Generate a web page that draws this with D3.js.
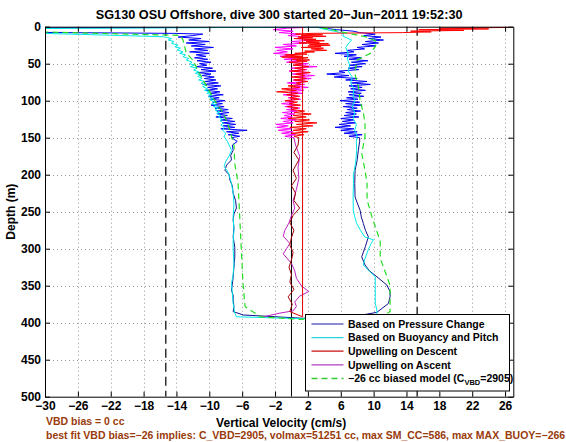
<!DOCTYPE html>
<html><head><meta charset="utf-8">
<script src="https://cdn.jsdelivr.net/npm/d3@7"></script>
<style>
body{margin:0;background:#fff;}
svg text{font-family:"Liberation Sans",Arial,Helvetica,sans-serif;font-weight:bold;}
</style></head><body>
<svg id="c" width="566" height="442"></svg>
<script>
// ---------------- data: [depth (m), vertical velocity (cm/s)] ----------------
const xTicks = [-30,-26,-22,-18,-14,-10,-6,-2,2,6,10,14,18,22,26];
const yTicks = [0,50,100,150,200,250,300,350,400,450,500];
const limitLines = [-15.3, 15.3];

const pressureFine = [[0.5,3.8],[2,-40],[7,-40],[9,-14.4],[10,-10.8],[12,-12.0],[14,-13.8],[16,-11.0],[18,-12.5],[20,-10.0],[22,-12.8],[24,-10.5],[26,-12.2],[28,-9.5],[30,-11.8],[32,-10.2],[34,-12.4],[36,-10.0],[38,-11.6],[40,-10.4],[42,-11.8],[44,-10.2],[46,-11.5],[48,-9.8],[50,-11.2],[52,-10.3],[54,-11.6],[56,-9.6],[58,-11.0],[60,-9.2],[62,-11.4],[64,-9.8],[66,-10.9],[68,-9.4],[70,-10.6],[72,-9.2],[74,-10.5],[76,-8.9],[78,-10.8],[80,-8.6],[82,-10.2],[84,-9.0],[86,-10.4],[88,-8.7],[90,-9.9],[92,-8.3],[94,-10.1],[96,-8.8],[98,-9.9],[100,-8.1],[102,-9.6],[104,-8.4],[106,-9.8],[108,-8.2],[110,-9.3],[112,-7.7],[114,-9.1],[116,-7.6],[118,-9.0],[120,-7.8],[122,-9.2],[124,-7.2],[126,-8.6],[128,-6.9],[130,-8.4],[132,-6.8],[134,-8.3],[136,-6.9],[138,-8.6],[140,-5.4],[142,-7.9],[144,-6.4],[146,-7.7],[148,-6.3],[150,-7.3],[155,-6.6],[160,-7.2],[167,-7.1]];
const pressureDeep = [[167,-7.1],[174,-7.4],[180,-7.3],[187,-7.9],[194,-8.1],[200,-7.6],[207,-7.5],[215,-7.2],[225,-7.1],[235,-6.8],[245,-6.7],[253,-7.0],[261,-7.1],[272,-7.0],[284,-7.1],[298,-6.9],[311,-6.9],[325,-7.0],[338,-7.1],[348,-7.2],[356,-7.3],[363,-7.1],[369,-7.1],[378,-7.0],[385,-7.1],[389.6,-5.85],[394,1.4],[390,8.4],[386,10.4],[374,11.8],[365,12.0],[358,12.0],[349,11.6],[338,10.4],[330,9.5],[322,8.95],[311,8.55],[297,9.0],[284,9.36],[275,9.0],[266,8.75],[257,8.5],[248,8.35],[238,8.0],[230,7.74],[212,7.7],[194,7.74],[180,8.0],[167,8.14],[155,8.3],[150,8.3]];
const pressureAscentFine = [[150,8.3],[148,7.0],[146,8.6],[144,6.4],[142,8.0],[140,6.0],[138,7.6],[136,5.3],[134,7.2],[132,5.8],[130,7.8],[128,6.2],[126,7.6],[124,6.0],[122,8.2],[120,6.4],[118,7.9],[116,6.6],[114,8.4],[112,6.8],[110,8.0],[108,6.3],[106,8.6],[104,6.6],[102,8.3],[100,5.9],[98,8.1],[96,6.7],[94,8.8],[92,7.0],[90,8.5],[88,6.9],[86,9.0],[84,7.2],[82,8.6],[80,7.0],[78,9.6],[76,7.3],[74,9.2],[72,6.6],[70,8.0],[68,5.2],[66,7.0],[64,4.3],[62,6.5],[60,5.8],[58,8.2],[56,6.9],[54,8.6],[52,7.0],[50,9.0],[48,7.3],[46,9.3],[44,7.0],[42,8.5],[40,6.4],[38,7.9],[36,5.3],[34,7.6],[32,6.8],[30,8.9],[28,8.0],[26,10.2],[24,8.6],[22,10.6],[20,9.0],[18,11.2],[16,9.4],[14,10.9],[12,8.8],[10,10.2],[8,8.3],[6,7.5],[4,5.5],[2,4.0]];

const buoyancy = [[0.5,3.2],[3,-40],[6,-40],[13.5,-15.6],[16,-14.6],[18,-15.0],[20,-14.3],[22.5,-14.6],[25,-13.8],[27,-14.2],[29,-13.5],[31.5,-13.9],[34,-13.2],[36,-13.6],[38,-12.9],[40.5,-13.2],[43,-12.5],[45,-12.8],[48,-12.1],[50,-12.4],[52,-11.8],[54,-12.3],[56,-11.5],[58.5,-11.9],[61,-11.3],[63,-11.7],[65,-11.0],[67,-11.4],[70,-10.9],[72,-11.3],[74,-10.6],[76.5,-11.0],[79,-10.4],[81,-10.8],[84,-10.2],[86,-10.6],[88,-9.9],[90,-10.3],[92,-9.7],[94.6,-10.1],[97,-9.5],[99,-9.9],[102,-9.3],[104,-9.7],[106,-9.1],[108,-9.5],[110,-8.9],[112.6,-9.3],[115,-8.7],[117,-9.1],[120,-8.6],[122,-8.9],[125,-8.4],[127,-8.7],[130.5,-8.3],[133,-8.6],[136,-8.2],[140,-8.4],[144,-8.0],[148.6,-8.2],[155,-7.8],[162,-7.5],[167,-7.3],[175,-7.6],[182,-8.0],[189,-8.2],[195,-7.8],[200,-7.6],[212,-7.3],[225,-7.1],[240,-7.0],[257,-7.1],[275,-7.0],[290,-7.1],[302,-7.1],[320,-7.0],[335,-7.1],[347,-7.3],[360,-7.2],[374,-7.1],[387,-6.9],[392,-6.7],[394.5,1.0],[391,10.4],[383,10.4],[374,10.2],[365,10.2],[350,10.2],[338,10.2],[329,9.36],[322,8.75],[315,8.9],[301,9.36],[293,9.7],[288,9.97],[284,8.9],[275,8.4],[266,7.94],[257,7.7],[248,7.53],[230,7.5],[212,7.55],[200,7.53],[185,7.8],[167,7.94],[155,7.9],[148,8.0],[140,7.7],[132,7.9],[124,7.5],[116,7.7],[108,7.4],[100,7.7],[92,7.5],[84,7.6],[76,7.2],[68,7.4],[60,6.9],[52,7.1],[44,6.8],[36,6.9],[28,6.6],[22,7.0],[18,7.3],[13,6.3],[9,6.3],[6,5.2],[3,3.8],[1,3.2]];

const biasedModel = [[0.5,-40],[5,-38],[11.7,-13.5],[18,-13.2],[27,-13.0],[36,-12.8],[45,-12.0],[63,-11.2],[81,-10.3],[99,-9.4],[117,-8.3],[130,-7.8],[140,-7.5],[160,-7.0],[185,-6.9],[211,-6.5],[257,-6.3],[302,-6.1],[347,-5.9],[378,-5.65],[392,-3.8],[395.5,1.0],[392,11.0],[385,12.0],[350,12.0],[337,11.6],[313,10.8],[290,10.8],[257,9.8],[234,9.2],[212,9.2],[194,8.95],[171,8.55],[149,8.95],[130,8.95],[117,8.75],[99,8.35],[81,8.14],[63,7.7],[45,8.0],[36,9.6],[27,10.2],[20,10.4],[14,9.2],[8,6.5],[3,4.5],[0.5,3.0]];

const upDescentFine = [[1,26.5],[2,18],[3,24],[4,15.5],[5,21],[6,14.5],[7,17],[8,13.5],[9,2.5],[10,0.5],[11,3.8],[12,1.2],[13,4.2],[14,0.8],[15,2.6],[16,0.3],[17,3.0],[18,1.5],[19,4.0],[20,1.8],[21,3.4],[22,0.9],[23,4.5],[24,2.2],[25,4.7],[26,2.0],[27,3.6],[28,1.2],[29,3.9],[30,2.4],[32,4.3],[33,1.6],[34,2.8],[36,0.4],[37,1.9],[38,-0.8],[40,1.3],[41,-1.2],[42,2.0],[44,0.1],[45,2.2],[46,0.6],[47,1.9],[48,-0.3],[50,1.4],[52,0.2],[54,2.1],[56,0.4],[58,1.7],[60,-0.1],[62,2.3],[64,0.5],[66,1.6],[68,0.0],[70,1.8],[72,0.3],[74,2.0],[76,0.6],[78,1.2],[80,-0.4],[82,1.0],[84,-1.2],[86,0.6],[88,-1.8],[90,0.8],[92,-0.6],[94,1.0],[96,-0.2],[98,0.9],[100,-0.8],[102,0.7],[104,-0.3],[106,1.1],[108,-0.5],[110,0.8],[112,0.0],[114,1.6],[116,0.3],[118,2.4],[120,0.2],[122,1.8],[124,-0.4],[126,2.2],[128,0.4],[130,3.1],[132,0.6],[134,2.6],[136,-0.2],[138,1.8],[140,0.2],[142,2.0],[144,0.0],[146,1.5],[148,0.3],[150,0.9]];
const upDescentDeep = [[150,0.9],[160,0.8],[170,0.3],[180,0.9],[194,0.2],[205,0.6],[215,0.0],[225,0.5],[235,0.3],[245,1.0],[255,0.2],[265,-0.2],[275,0.3],[285,0.0],[295,-0.2],[305,0.2],[315,0.0],[325,-0.3],[335,0.0],[345,-0.2],[355,0.3],[365,-0.4],[375,0.1],[385,-0.2]];
const upDescentTail = [[385,-0.2],[392,1.35],[0,1.35]];

const upAscentDeep = [[392,-3.4],[387,-1.4],[384,0.2],[378,0.6],[372,0.4],[364,1.0],[358,2.1],[350,1.2],[340,0.6],[330,0.4],[320,0.0],[307,-1.0],[300,-0.6],[293,-0.2],[283,-1.0],[275,-0.8],[265,-0.3],[255,0.0],[245,0.4],[235,0.2],[220,0.6],[205,0.9],[190,0.8],[175,1.0],[160,0.5],[150,0.3]];
const upAscentFine = [[150,0.3],[148,-0.8],[146,0.5],[144,-1.2],[142,0.2],[140,-1.6],[138,0.0],[136,-1.8],[134,-0.4],[132,-1.9],[130,0.2],[128,-1.0],[126,0.6],[124,-1.3],[122,0.1],[120,-0.9],[118,0.4],[116,-1.1],[114,0.7],[112,-0.6],[110,1.0],[108,-0.8],[106,0.5],[104,-1.2],[102,0.3],[100,-0.7],[98,1.1],[96,-0.4],[94,0.8],[92,-1.0],[90,1.3],[88,-0.2],[86,1.5],[84,0.0],[82,2.0],[80,0.3],[78,1.6],[76,-0.5],[74,1.8],[72,0.2],[70,2.4],[68,0.6],[66,2.8],[64,0.1],[62,2.2],[60,-0.3],[58,1.9],[56,0.0],[54,3.1],[52,0.4],[50,2.0],[48,-0.6],[46,1.2],[44,-0.9],[42,0.8],[40,-1.4],[38,0.3],[36,-2.2],[34,-0.5],[32,-1.8],[30,0.2],[28,-2.0],[26,0.6],[24,-1.0],[22,1.8],[20,0.0],[18,2.7],[16,0.5],[14,2.2],[12,-0.4],[10,1.0],[8,-1.5],[6,0.2],[4,-2.2],[2,-0.5],[1,1.5]];

const legendLabels = ["Based on Pressure Change","Based on Buoyancy and Pitch","Upwelling on Descent","Upwelling on Ascent","\u221226 cc biased model (C"];
const titleText = "SG130 OSU Offshore, dive 300 started 20\u2212Jun\u22122011 19:52:30";
const note1 = "VBD bias = 0 cc";
const note2 = "best fit VBD bias=\u221226 implies: C_VBD=2905, volmax=51251 cc, max SM_CC=586, max MAX_BUOY=\u2212266";

// ---------------- drawing ----------------
const svg = d3.select("#c");
const L=45, R=513.3, T=26.7, B=396.7;
const x = d3.scaleLinear().domain([-30,27]).range([L,R]);
const y = d3.scaleLinear().domain([0,500]).range([T,B]);
const fmt = v => v<0 ? "\u2212"+Math.abs(v) : String(v);

svg.append("rect").attr("width",566).attr("height",442).attr("fill","#fff");
svg.append("defs").append("clipPath").attr("id","clip")
  .append("rect").attr("x",L).attr("y",T).attr("width",R-L).attr("height",B-T);

// grid
const grid = svg.append("g").attr("stroke","#999").attr("stroke-width",1).attr("stroke-dasharray","1,3");
grid.selectAll(".gx").data(xTicks.filter(v=>v>-30)).join("line")
  .attr("x1",d=>Math.round(x(d))+0.5).attr("x2",d=>Math.round(x(d))+0.5).attr("y1",T).attr("y2",B);
grid.selectAll(".gy").data(yTicks.filter(v=>v>0&&v<500)).join("line")
  .attr("y1",d=>Math.round(y(d))+0.5).attr("y2",d=>Math.round(y(d))+0.5).attr("x1",L).attr("x2",R);

const plot = svg.append("g").attr("clip-path","url(#clip)");
plot.selectAll(".lim").data(limitLines).join("line")
  .attr("x1",d=>x(d)).attr("x2",d=>x(d)).attr("y1",T).attr("y2",B)
  .attr("stroke","#222").attr("stroke-width",1.4).attr("stroke-dasharray","9,5");
plot.append("line").attr("x1",x(0)).attr("x2",x(0)).attr("y1",T).attr("y2",B)
  .attr("stroke","#000").attr("stroke-width",1);

const line = d3.line().x(d=>x(d[1])).y(d=>y(d[0]));
function draw(data,color,w,dash){
  const p = plot.append("path").attr("d",line(data)).attr("fill","none")
    .attr("stroke",color).attr("stroke-width",w).attr("stroke-linejoin","round");
  if(dash) p.attr("stroke-dasharray",dash);
}
draw(pressureFine,"#0000ff",1);
draw(pressureAscentFine,"#0000ff",1);
draw(pressureDeep,"#10108c",1);
draw(buoyancy,"#00e8e8",1);
draw(upAscentFine,"#ff00ff",1);
draw(upAscentDeep,"#c020c0",1);
draw(upDescentFine,"#ff0000",1);
draw(upDescentDeep,"#a00000",1);
draw(upDescentTail,"#e00000",1);
draw(biasedModel,"#22dd22",1.2,"6,4");

// axes
function styleAxis(g){
  g.attr("font-family",null).attr("font-size",null);
  g.select(".domain").attr("stroke","#000");
  g.selectAll(".tick line").attr("stroke","#000");
  g.selectAll("text").attr("fill","#000").style("font-size","12px");
}
svg.append("g").attr("transform",`translate(0,${B})`)
  .call(d3.axisBottom(x).tickValues(xTicks).tickSizeInner(-5).tickSizeOuter(0).tickPadding(5).tickFormat(fmt)).call(styleAxis);
svg.append("g").attr("transform",`translate(0,${T})`)
  .call(d3.axisTop(x).tickValues(xTicks).tickSizeInner(-5).tickSizeOuter(0).tickFormat("")).call(styleAxis);
svg.append("g").attr("transform",`translate(${L},0)`)
  .call(d3.axisLeft(y).tickValues(yTicks).tickSizeInner(-5).tickSizeOuter(0).tickPadding(4).tickFormat(fmt)).call(styleAxis);
svg.append("g").attr("transform",`translate(${R},0)`)
  .call(d3.axisRight(y).tickValues(yTicks).tickSizeInner(-5).tickSizeOuter(0).tickFormat("")).call(styleAxis);

// texts
svg.append("text").attr("x",(L+R)/2).attr("y",18.5).attr("text-anchor","middle").style("font-size","12.7px").text(titleText);
svg.append("text").attr("x",(L+R)/2+2).attr("y",427).attr("text-anchor","middle").style("font-size","12px").text("Vertical Velocity (cm/s)");
svg.append("text").attr("transform",`translate(15,${(T+B)/2}) rotate(-90)`).attr("text-anchor","middle").style("font-size","12px").text("Depth (m)");
svg.append("text").attr("x",46).attr("y",425).attr("fill","#9a3b0c").style("font-size","10.5px").text(note1);
svg.append("text").attr("x",46).attr("y",438.5).attr("fill","#9a3b0c").style("font-size","10.5px").text(note2);

// legend
const lg = svg.append("g");
lg.append("rect").attr("x",305.5).attr("y",314.5).attr("width",204).attr("height",76.5)
  .attr("fill","#fff").attr("stroke","#000").attr("stroke-width",1);
const legColors = ["#1a1aa8","#22d8d8","#cc1010","#b040c0","#33cc33"];
const rowY = i => 324 + i*13.6;
legendLabels.forEach((lab,i)=>{
  const l = lg.append("line").attr("x1",311.5).attr("x2",343.5).attr("y1",rowY(i)).attr("y2",rowY(i))
    .attr("stroke",legColors[i]).attr("stroke-width",1.2);
  if(i===4) l.attr("stroke-dasharray","6,4").attr("stroke-width",1.5);
  const t = lg.append("text").attr("x",348).attr("y",rowY(i)+3.8).style("font-size","10.5px").text(lab);
  if(i===4){
    t.append("tspan").attr("dy",3).style("font-size","7.5px").text("VBD");
    t.append("tspan").attr("dy",-3).text("=2905)");
  }
});
</script>
</body></html>
